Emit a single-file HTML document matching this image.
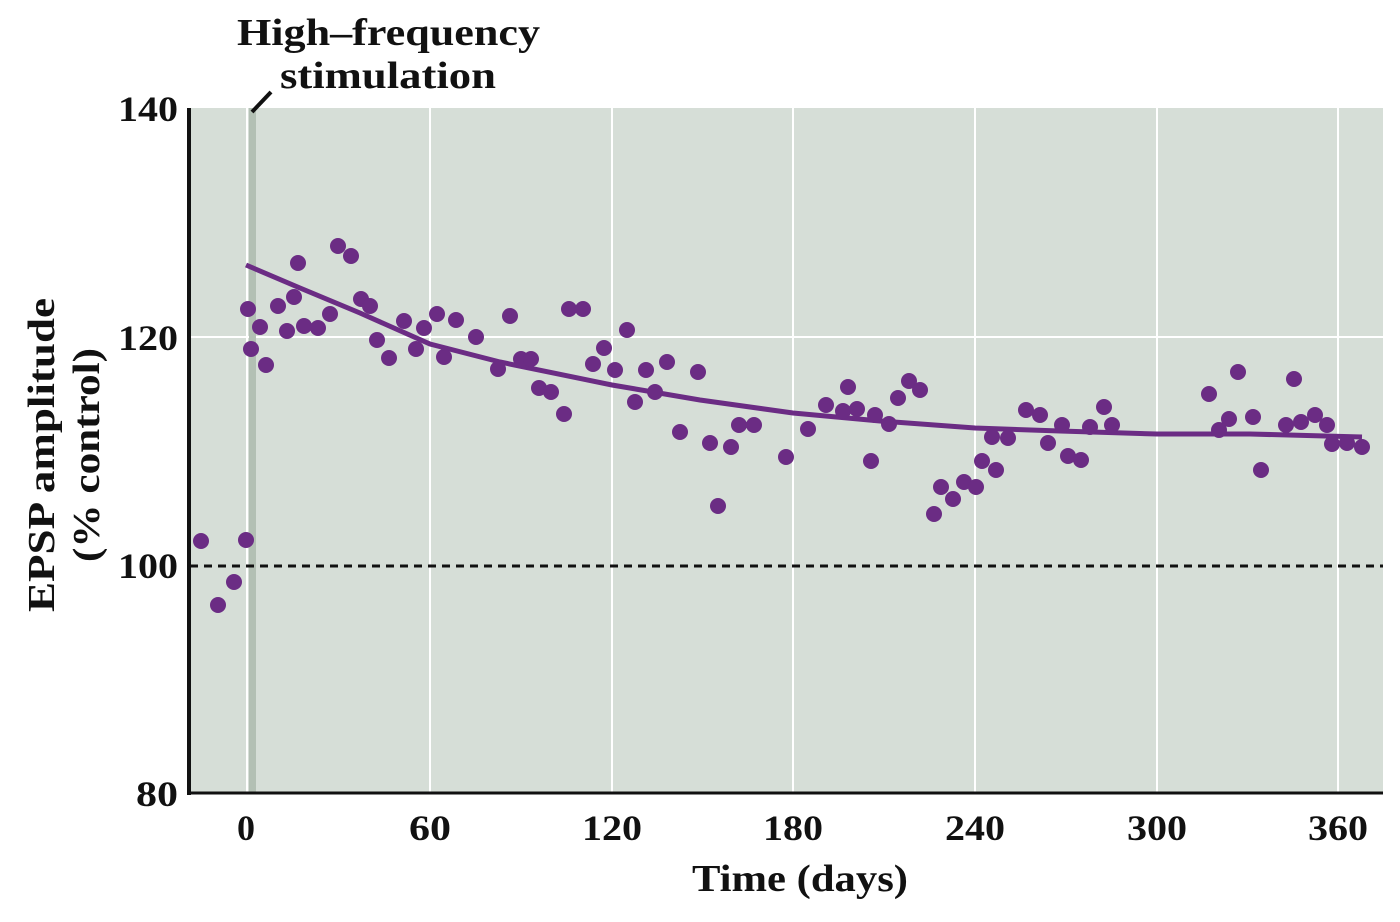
<!DOCTYPE html>
<html><head><meta charset="utf-8"><style>
body{margin:0;background:#fff}
svg{display:block}
text{font-family:"Liberation Serif",serif;font-weight:bold;fill:#111}
</style></head><body>
<svg width="1400" height="922" viewBox="0 0 1400 922">
<rect x="190" y="108" width="1193" height="686" fill="#d6ded7"/>
<g stroke="#fff" stroke-width="2">
<line x1="247" y1="108" x2="247" y2="794"/><line x1="430" y1="108" x2="430" y2="794"/>
<line x1="612" y1="108" x2="612" y2="794"/><line x1="793" y1="108" x2="793" y2="794"/>
<line x1="975" y1="108" x2="975" y2="794"/><line x1="1157" y1="108" x2="1157" y2="794"/>
<line x1="1338" y1="108" x2="1338" y2="794"/>
<line x1="190" y1="337" x2="1383" y2="337"/>
</g>
<rect x="249" y="108" width="7" height="686" fill="#b3c0b4"/>
<line x1="190" y1="566" x2="1383" y2="566" stroke="#111" stroke-width="3" stroke-dasharray="8,6"/>
<line x1="189" y1="108" x2="189" y2="795" stroke="#111" stroke-width="4"/>
<line x1="187" y1="793" x2="1383" y2="793" stroke="#111" stroke-width="3"/>
<line x1="252" y1="112" x2="271" y2="92" stroke="#111" stroke-width="4"/>
<polyline fill="none" stroke="#6b2c84" stroke-width="5" points="246,265 300,288 360,313 430,344 500,362 612,385 700,400 793,413 880,421 975,428 1060,431 1157,434 1250,434 1362,437"/>
<g fill="#6b2c84">
<circle cx="201" cy="541" r="8"/><circle cx="218" cy="605" r="8"/><circle cx="234" cy="582" r="8"/><circle cx="246" cy="540" r="8"/>
<circle cx="248" cy="309" r="8"/><circle cx="251" cy="349" r="8"/><circle cx="260" cy="327" r="8"/><circle cx="266" cy="365" r="8"/>
<circle cx="278" cy="306" r="8"/><circle cx="287" cy="331" r="8"/><circle cx="294" cy="297" r="8"/><circle cx="298" cy="263" r="8"/>
<circle cx="304" cy="326" r="8"/><circle cx="318" cy="328" r="8"/><circle cx="330" cy="314" r="8"/><circle cx="338" cy="246" r="8"/>
<circle cx="351" cy="256" r="8"/><circle cx="361" cy="299" r="8"/><circle cx="370" cy="306" r="8"/><circle cx="377" cy="340" r="8"/>
<circle cx="389" cy="358" r="8"/><circle cx="404" cy="321" r="8"/><circle cx="416" cy="349" r="8"/><circle cx="424" cy="328" r="8"/>
<circle cx="437" cy="314" r="8"/><circle cx="444" cy="357" r="8"/><circle cx="456" cy="320" r="8"/><circle cx="476" cy="337" r="8"/>
<circle cx="498" cy="369" r="8"/><circle cx="510" cy="316" r="8"/><circle cx="521" cy="359" r="8"/><circle cx="531" cy="359" r="8"/>
<circle cx="539" cy="388" r="8"/><circle cx="551" cy="392" r="8"/><circle cx="564" cy="414" r="8"/><circle cx="569" cy="309" r="8"/>
<circle cx="583" cy="309" r="8"/><circle cx="593" cy="364" r="8"/><circle cx="604" cy="348" r="8"/><circle cx="615" cy="370" r="8"/>
<circle cx="627" cy="330" r="8"/><circle cx="635" cy="402" r="8"/><circle cx="646" cy="370" r="8"/><circle cx="655" cy="392" r="8"/>
<circle cx="667" cy="362" r="8"/><circle cx="680" cy="432" r="8"/><circle cx="698" cy="372" r="8"/><circle cx="710" cy="443" r="8"/>
<circle cx="718" cy="506" r="8"/><circle cx="731" cy="447" r="8"/><circle cx="739" cy="425" r="8"/><circle cx="754" cy="425" r="8"/>
<circle cx="786" cy="457" r="8"/><circle cx="808" cy="429" r="8"/><circle cx="826" cy="405" r="8"/><circle cx="843" cy="411" r="8"/>
<circle cx="848" cy="387" r="8"/><circle cx="857" cy="409" r="8"/><circle cx="871" cy="461" r="8"/><circle cx="875" cy="415" r="8"/>
<circle cx="889" cy="424" r="8"/><circle cx="898" cy="398" r="8"/><circle cx="909" cy="381" r="8"/><circle cx="920" cy="390" r="8"/>
<circle cx="934" cy="514" r="8"/><circle cx="941" cy="487" r="8"/><circle cx="953" cy="499" r="8"/><circle cx="964" cy="482" r="8"/>
<circle cx="976" cy="487" r="8"/><circle cx="982" cy="461" r="8"/><circle cx="992" cy="437" r="8"/><circle cx="996" cy="470" r="8"/>
<circle cx="1008" cy="438" r="8"/><circle cx="1026" cy="410" r="8"/><circle cx="1040" cy="415" r="8"/><circle cx="1048" cy="443" r="8"/>
<circle cx="1062" cy="425" r="8"/><circle cx="1068" cy="456" r="8"/><circle cx="1081" cy="460" r="8"/><circle cx="1090" cy="427" r="8"/>
<circle cx="1104" cy="407" r="8"/><circle cx="1112" cy="425" r="8"/><circle cx="1209" cy="394" r="8"/><circle cx="1219" cy="430" r="8"/>
<circle cx="1229" cy="419" r="8"/><circle cx="1238" cy="372" r="8"/><circle cx="1253" cy="417" r="8"/><circle cx="1261" cy="470" r="8"/>
<circle cx="1286" cy="425" r="8"/><circle cx="1294" cy="379" r="8"/><circle cx="1301" cy="422" r="8"/><circle cx="1315" cy="415" r="8"/>
<circle cx="1327" cy="425" r="8"/><circle cx="1332" cy="444" r="8"/><circle cx="1347" cy="443" r="8"/><circle cx="1362" cy="447" r="8"/>
</g>
<g font-size="36">
<text x="118" y="121" textLength="60" lengthAdjust="spacingAndGlyphs">140</text>
<text x="118" y="350" textLength="60" lengthAdjust="spacingAndGlyphs">120</text>
<text x="118" y="578" textLength="60" lengthAdjust="spacingAndGlyphs">100</text>
<text x="136" y="806" textLength="42" lengthAdjust="spacingAndGlyphs">80</text>
<text x="237" y="840">0</text>
<text x="409" y="840" textLength="42" lengthAdjust="spacingAndGlyphs">60</text>
<text x="582" y="840" textLength="60" lengthAdjust="spacingAndGlyphs">120</text>
<text x="763" y="840" textLength="60" lengthAdjust="spacingAndGlyphs">180</text>
<text x="945" y="840" textLength="60" lengthAdjust="spacingAndGlyphs">240</text>
<text x="1127" y="840" textLength="60" lengthAdjust="spacingAndGlyphs">300</text>
<text x="1308" y="840" textLength="60" lengthAdjust="spacingAndGlyphs">360</text>
</g>
<g font-size="38">
<text x="692" y="891" textLength="216" lengthAdjust="spacingAndGlyphs">Time (days)</text>
<text x="237" y="45" textLength="303" lengthAdjust="spacingAndGlyphs">High–frequency</text>
<text x="280" y="88" textLength="216" lengthAdjust="spacingAndGlyphs">stimulation</text>
<text transform="translate(54,612) rotate(-90)" textLength="314" lengthAdjust="spacingAndGlyphs">EPSP amplitude</text>
<text transform="translate(99,562) rotate(-90)" textLength="214" lengthAdjust="spacingAndGlyphs">(% control)</text>
</g>
</svg>
</body></html>
